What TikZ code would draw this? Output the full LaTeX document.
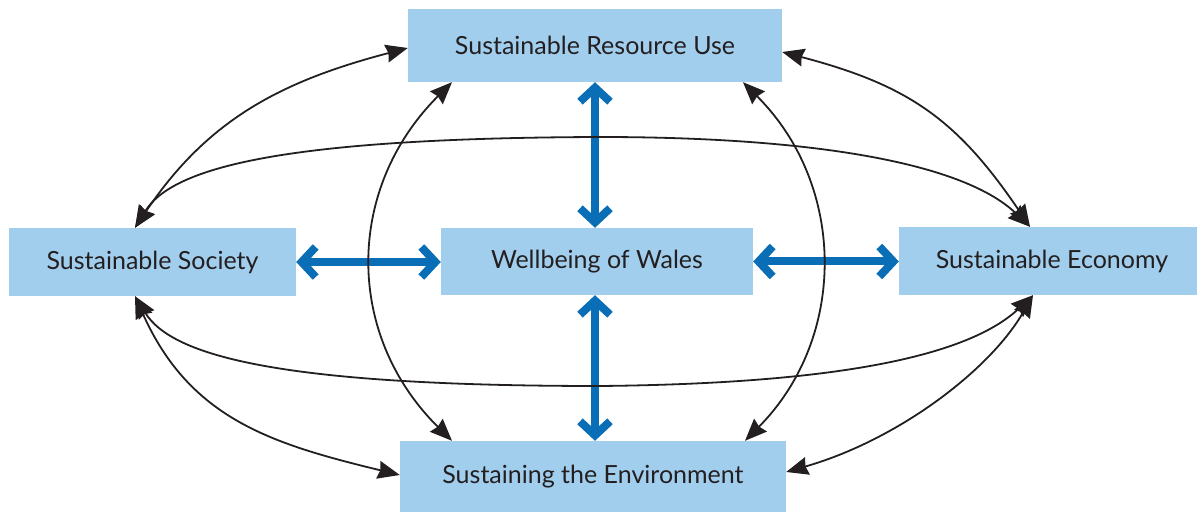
\documentclass[tikz,border=0pt]{standalone}
\usepackage{fontspec}
\setmainfont{Lato}
\usetikzlibrary{arrows.meta}
\definecolor{boxblue}{HTML}{A2CEEE}
\definecolor{arrowblue}{HTML}{0A6EB6}
\definecolor{txt}{HTML}{231F20}
\definecolor{linecol}{HTML}{231F20}
\tikzset{
  box/.style={rectangle, fill=boxblue, inner sep=0pt, text=txt, font=\fontsize{25}{30}\selectfont},
  link/.style={line width=1.8pt, draw=linecol,
    {Stealth[length=22pt,width=18pt,inset=2pt]}-{Stealth[length=22pt,width=18pt,inset=2pt]}},
  bigarrow/.style={line width=8pt, draw=arrowblue,
    {Straight Barb[length=14pt,width=30pt]}-{Straight Barb[length=14pt,width=30pt]}}
}
\begin{document}
\begin{tikzpicture}[x=1pt,y=-1pt]
\useasboundingbox (0,0) rectangle (1197,513);
% boxes
\node[box, minimum width=374pt, minimum height=73pt] (res) at (595,45.5) {Sustainable Resource Use};
\node[box, minimum width=287pt, minimum height=68pt] (soc) at (152.5,262) {Sustainable Society};
\node[box, minimum width=312pt, minimum height=67pt] (wel) at (597,261.5) {Wellbeing of Wales};
\node[box, minimum width=306pt, minimum height=68pt] (eco) at (1052,261) {Sustainable Economy};
\node[box, minimum width=386pt, minimum height=71pt] (env) at (593,476.5) {Sustaining the Environment};
% blue arrows
\draw[bigarrow] (res.south) -- (res.south |- wel.north);
\draw[bigarrow] (res.south |- wel.south) -- (res.south |- env.north);
\draw[bigarrow] (soc.east) -- (wel.west |- soc.east);
\draw[bigarrow] (wel.east) -- (eco.west |- wel.east);
% black links
\draw[link] ([xshift=-17.5pt]soc.north) .. controls (208,119) and (282,81) .. ([yshift=-2.5pt]res.west);
\draw[link] ([xshift=-17.5pt]soc.north) .. controls (172,168) and (280,138) .. (600,137)
   .. controls (800,137) and (960,160) .. ([xshift=-22pt]eco.north);
\draw[link] ([xshift=-17.5pt]soc.south) .. controls (172,356) and (280,386) .. (600,386)
   .. controls (800,384) and (960,364) .. ([xshift=-19pt]eco.south);
\draw[link] ([xshift=-143pt]res.south) .. controls (345,189) and (345,335) .. ([xshift=-141pt]env.north);
\draw[link] ([xshift=148pt]res.south) .. controls (847,186) and (847,338) .. ([xshift=152pt]env.north);
\draw[link] ([xshift=-22pt]eco.north) .. controls (957,119) and (908,85) .. ([yshift=-6.5pt]res.east);
\draw[link] ([xshift=-17.5pt]soc.south) .. controls (190,419) and (272,444) .. ([yshift=1.5pt]env.west);
\draw[link] ([xshift=-19pt]eco.south) .. controls (990,370) and (898,440) .. ([yshift=4.5pt]env.east);
\end{tikzpicture}
\end{document}
